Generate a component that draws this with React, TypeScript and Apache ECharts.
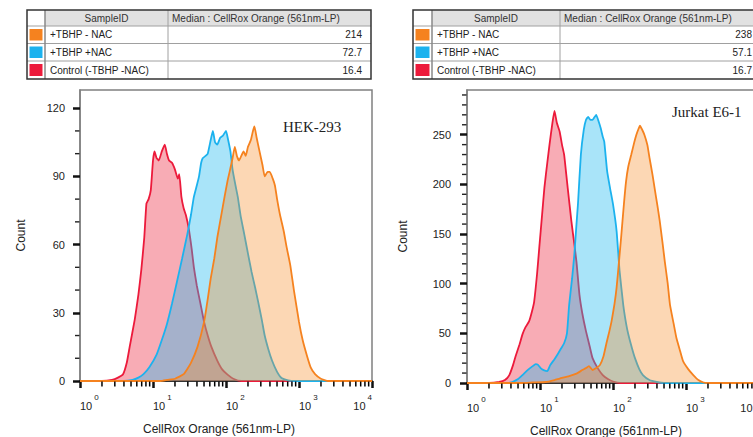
import React, { useEffect, useRef } from 'react';
import * as echarts from 'echarts';

// ---------- data ----------
const sampleIds = ['+TBHP - NAC', '+TBHP +NAC', 'Control (-TBHP -NAC)'];
const sampleColors = ['#f5821f', '#1cb2ee', '#ec1a3b'];
const fillColors = ['rgba(246,140,40,0.5)', 'rgba(30,185,240,0.55)', 'rgba(236,40,62,0.55)'];
const hekMedians = ['214', '72.7', '16.4'];
const jurkatMedians = ['238', '57.1', '16.7'];
const tableHeader = ['SampleID', 'Median : CellRox Orange (561nm-LP)'];
const panelTitles = ['HEK-293', 'Jurkat E6-1'];
const xAxisName = 'CellRox Orange (561nm-LP)';
const yAxisName = 'Count';

const hekYTicks = [0, 30, 60, 90, 120];
const hekYMinor = [10, 20, 40, 50, 70, 80, 100, 110];
const jurkatYTicks = [0, 50, 100, 150, 200, 250];
const jurkatYMinor = [10, 20, 30, 40, 60, 70, 80, 90, 110, 120, 130, 140, 160, 170, 180, 190, 210, 220, 230, 240, 260, 270, 280, 290];
const xMinorFactors = [2, 3, 4, 5, 6, 7, 8, 9];
const xDecades = [1, 10, 100, 1000];

// [fluorescence, count]
const hekControl = [[1,0],[2.0,0],[2.75,0.5],[3.31,1.5],[3.89,3],[4.37,8],[4.79,15],[5.62,27],[6.31,38],[6.92,49],[7.59,63],[8.13,78],[8.71,80],[9.33,84],[10,97],[10.5,101],[11.2,98],[12.0,97],[13.2,101],[14.5,104],[15.5,100],[16.6,97],[18.2,96],[20.0,93],[21.9,89],[22.9,91],[24.5,81],[26.3,76],[28.2,73],[30.9,67],[33.9,58],[36.3,50],[39.8,42],[44.7,34],[50.1,26],[56.2,20],[63.1,15],[75.9,9],[89.1,5],[105,2.8],[126,1],[162,0],[10000,0]];
const hekNac = [[1,0],[3.98,0],[5.25,0.5],[6.31,1.5],[7.41,3],[8.91,6],[11.2,11.6],[13.2,18],[15.5,25],[18.2,34],[21.4,44],[25.1,54],[29.5,64.5],[33.1,73],[36.3,81],[39.8,86],[42.7,90],[45.7,96],[47.9,98],[52.5,99],[56.2,100],[61.7,106],[66.1,110],[70.8,105],[75.9,104],[83.2,107],[91.2,108],[100,110],[107,106],[115,101],[123,93],[135,86],[145,81],[158,73],[178,64.5],[200,56],[224,48],[251,41],[275,35],[309,27],[339,20],[380,14],[427,9],[501,4],[575,1.3],[708,0.3],[871,0],[10000,0]];
const hekTbhp = [[1,0],[12.6,0],[15.8,0.5],[20.0,1],[26.3,3],[33.1,8],[40.7,15],[50.1,26],[56.2,36],[61.7,45],[69.2,54],[75.9,63],[85.1,72],[95.5,81],[105,88],[112,92],[123,98],[132,103],[141,99],[151,97],[162,99],[174,101],[186,99],[200,103],[219,106],[234,110],[245,112],[263,107],[288,101],[316,95],[339,90],[372,92],[398,92],[437,89],[468,86],[501,80],[550,73],[617,66],[676,59],[759,51],[851,40],[1000,26],[1122,18],[1288,11],[1445,6],[1660,3],[1995,1],[2512,0],[10000,0]];

const jurkatControl = [[1,0],[2.0,0],[2.75,1],[3.31,3],[3.80,8],[4.27,18],[4.68,28],[5.25,39],[5.75,49],[6.31,56],[7.08,62],[7.76,72],[8.32,82],[9.12,110],[9.77,136],[10.7,170],[11.5,197],[12.6,222],[13.5,240],[14.8,262],[15.8,274],[17.0,262],[18.6,253],[20.0,240],[21.4,230],[22.9,210],[24.0,196],[26.9,163],[29.5,140],[31.6,122],[34.7,89],[38.0,70],[42.7,52],[47.9,37],[52.5,25],[61.7,15],[72.4,8],[85.1,4],[100,1.5],[126,0],[10000,0]];
const jurkatNac = [[1,0],[3.55,0],[4.17,1],[5.01,4],[5.75,8],[6.76,13],[7.94,17],[8.71,19],[9.33,18.5],[10.2,15],[11.2,13],[12.6,12],[13.8,18],[15.8,24],[17.8,30],[19.5,35],[21.4,40],[23.4,50],[25.1,79],[27.5,105],[29.5,129],[31.6,160],[33.1,180],[36.3,230],[39.8,255],[42.7,265],[45.7,268],[49.0,265],[52.5,265],[56.2,268],[58.9,270],[63.1,264],[67.6,257],[72.4,248],[75.9,243],[83.2,213],[91.2,196],[100,180],[112,153],[123,113],[138,79],[151,60],[162,49],[182,35],[200,25],[229,14],[257,8],[316,3],[398,1],[501,0],[10000,0]];
const jurkatTbhp = [[1,0],[5.62,0],[7.94,0.5],[12.0,1],[15.8,3],[18.6,4.5],[25.1,7],[31.6,9.5],[38.0,13],[42.7,15],[46.8,17],[52.5,13],[58.9,15],[66.1,18],[74.1,27],[81.3,40],[89.1,52],[95.5,62],[105,80],[112,96],[120,120],[129,146],[141,180],[151,203],[162,218],[178,230],[195,242],[209,250],[224,256],[234,259],[251,255],[269,250],[295,240],[316,227],[347,210],[372,196],[407,178],[437,163],[479,140],[513,122],[562,100],[603,79],[676,60],[741,45],[832,32],[912,22],[1072,14],[1259,8],[1479,3],[1738,0.5],[1995,0],[10000,0]];

// ---------- helpers ----------
const SANS = 'Arial, "Liberation Sans", Helvetica, sans-serif';
const SERIF = '"Times New Roman", "Liberation Serif", serif';
const xMinorValues = xDecades.flatMap((d) => xMinorFactors.map((f) => d * f));

function buildTable(x0: number, x1: number, x2: number, x3: number, medians: string[]) {
  const ys = [10, 26, 43.5, 61, 79];
  const els: any[] = [];
  els.push({ type: 'rect', silent: true, shape: { x: x1, y: ys[0], width: x3 - x1, height: ys[1] - ys[0] }, style: { fill: '#e1e1e1' } });
  for (let i = 1; i < 4; i++) {
    els.push({ type: 'line', silent: true, shape: { x1: x0, y1: ys[i], x2: x3, y2: ys[i] }, style: { stroke: '#a0a0a0', lineWidth: 1 } });
  }
  els.push({ type: 'line', silent: true, shape: { x1: x1, y1: ys[0], x2: x1, y2: ys[4] }, style: { stroke: '#888', lineWidth: 1.5 } });
  els.push({ type: 'line', silent: true, shape: { x1: x2, y1: ys[0], x2: x2, y2: ys[4] }, style: { stroke: '#a0a0a0', lineWidth: 1 } });
  els.push({ type: 'rect', silent: true, shape: { x: x0, y: ys[0], width: x3 - x0, height: ys[4] - ys[0] }, style: { fill: 'none', stroke: '#333', lineWidth: 1.5 } });
  const mid = (a: number, b: number) => (a + b) / 2;
  els.push({ type: 'text', silent: true, style: { text: tableHeader[0], x: mid(x1, x2), y: mid(ys[0], ys[1]), align: 'center', textAlign: 'center', verticalAlign: 'middle', textVerticalAlign: 'middle', fill: '#333', font: `10px ${SANS}` } });
  els.push({ type: 'text', silent: true, style: { text: tableHeader[1], x: x2 + 4, y: mid(ys[0], ys[1]), align: 'left', textAlign: 'left', verticalAlign: 'middle', textVerticalAlign: 'middle', fill: '#333', font: `10px ${SANS}` } });
  for (let r = 0; r < 3; r++) {
    const yTop = ys[r + 1];
    const yBot = ys[r + 2];
    els.push({ type: 'rect', silent: true, shape: { x: x0 + 2.5, y: yTop + 3, width: x1 - x0 - 5, height: yBot - yTop - 6 }, style: { fill: sampleColors[r] } });
    els.push({ type: 'text', silent: true, style: { text: sampleIds[r], x: x1 + 5, y: mid(yTop, yBot), align: 'left', textAlign: 'left', verticalAlign: 'middle', textVerticalAlign: 'middle', fill: '#222', font: `10px ${SANS}` } });
    els.push({ type: 'text', silent: true, style: { text: medians[r], x: x3 - 9, y: mid(yTop, yBot), align: 'right', textAlign: 'right', verticalAlign: 'middle', textVerticalAlign: 'middle', fill: '#222', font: `10px ${SANS}` } });
  }
  return els;
}

function mainXAxis(gridIndex: number) {
  return {
    type: 'log', gridIndex, min: 1, max: 10000, logBase: 10,
    name: xAxisName, nameLocation: 'middle', nameGap: 42,
    nameTextStyle: { fontSize: 12, color: '#222', fontFamily: SANS, padding: [0, 14, 0, 0] },
    axisLine: { show: true, lineStyle: { color: '#111', width: 1.5 } },
    axisTick: { show: true, inside: false, length: 7, lineStyle: { color: '#111', width: 2.5 } },
    axisLabel: {
      show: true, margin: 12, align: 'left', alignMaxLabel: 'right',
      formatter: (v: number) => `{b|10}{s|${Math.round(Math.log10(v))}}`,
      rich: {
        b: { fontSize: 11, color: '#222', fontFamily: SANS, lineHeight: 18, verticalAlign: 'bottom' },
        s: { fontSize: 8, color: '#222', fontFamily: SANS, lineHeight: 10, verticalAlign: 'top', padding: [0, 0, 0, 2] },
      },
    },
    splitLine: { show: false },
    minorTick: { show: false },
  };
}

function mainYAxis(gridIndex: number, max: number, ticks: number[], interval: number, margin: number, nameGap: number) {
  return {
    type: 'value', gridIndex, min: 0, max, interval,
    name: yAxisName, nameLocation: 'middle', nameGap, nameRotate: 90,
    nameTextStyle: { fontSize: 12, color: '#222', fontFamily: SANS },
    axisLine: { show: true, lineStyle: { color: '#808080', width: 1.5 } },
    axisTick: { show: true, length: 7, customValues: ticks, lineStyle: { color: '#111', width: 2.5 } },
    axisLabel: { show: true, margin, customValues: ticks, fontSize: 11, color: '#222', fontFamily: SANS },
    splitLine: { show: false },
  };
}

function histSeries(name: string, data: number[][], idx: number, axisIndex: number, z: number) {
  return {
    name, type: 'line', xAxisIndex: axisIndex, yAxisIndex: axisIndex, data, z,
    showSymbol: false, symbol: 'none', smooth: 0.15,
    lineStyle: { color: sampleColors[idx], width: 1.8 },
    areaStyle: { color: fillColors[idx], origin: 'start' },
  };
}

// minor ticks drawn through the axes' own scales
function xMinorTickSeries(axisIndex: number) {
  return {
    type: 'custom', xAxisIndex: axisIndex, yAxisIndex: axisIndex, clip: false, silent: true, z: 6,
    data: xMinorValues.map((v) => [v, 0]),
    renderItem: (_p: any, api: any) => {
      const pt = api.coord([api.value(0), 0]);
      return { type: 'line', shape: { x1: pt[0], y1: pt[1] + 0.5, x2: pt[0], y2: pt[1] + 5.5 }, style: { stroke: '#000', lineWidth: 1.5 } };
    },
  };
}

function yMinorTickSeries(axisIndex: number, values: number[]) {
  return {
    type: 'custom', xAxisIndex: axisIndex, yAxisIndex: axisIndex, clip: false, silent: true, z: 6,
    data: values.map((v) => [1, v]),
    renderItem: (_p: any, api: any) => {
      const pt = api.coord([1, api.value(1)]);
      return { type: 'line', shape: { x1: pt[0] - 5, y1: pt[1], x2: pt[0] - 0.5, y2: pt[1] }, style: { stroke: '#222', lineWidth: 1.4 } };
    },
  };
}

export default function App() {
  const ref = useRef<HTMLDivElement>(null);
  useEffect(() => {
    document.body.style.margin = '0';
    const chart = echarts.init(ref.current!, undefined, { renderer: 'svg' });
    chart.setOption({
      animation: false,
      backgroundColor: '#ffffff',
      grid: [
        { left: 80, top: 90, width: 292, height: 291, show: true, borderColor: '#808080', borderWidth: 1.5, backgroundColor: '#fff', containLabel: false, outerBoundsMode: 'none' },
        { left: 467, top: 90, width: 292, height: 293, show: true, borderColor: '#808080', borderWidth: 1.5, backgroundColor: '#fff', containLabel: false, outerBoundsMode: 'none' },
      ],
      xAxis: [mainXAxis(0), mainXAxis(1)],
      yAxis: [
        mainYAxis(0, 128, hekYTicks, 30, 15, 53),
        mainYAxis(1, 295, jurkatYTicks, 50, 16, 58),
      ],
      series: [
        histSeries(sampleIds[2], hekControl, 2, 0, 2),
        histSeries(sampleIds[1], hekNac, 1, 0, 3),
        histSeries(sampleIds[0], hekTbhp, 0, 0, 4),
        histSeries(sampleIds[2], jurkatControl, 2, 1, 2),
        histSeries(sampleIds[1], jurkatNac, 1, 1, 3),
        histSeries(sampleIds[0], jurkatTbhp, 0, 1, 4),
        xMinorTickSeries(0),
        xMinorTickSeries(1),
        yMinorTickSeries(0, hekYMinor),
        yMinorTickSeries(1, jurkatYMinor),
      ],
      graphic: [
        ...buildTable(27, 45, 168, 371, hekMedians),
        ...buildTable(413, 432, 560, 761, jurkatMedians),
        { type: 'text', silent: true, z: 10, style: { text: panelTitles[0], x: 283, y: 127, align: 'left', textAlign: 'left', verticalAlign: 'middle', textVerticalAlign: 'middle', fill: '#222', font: `15px ${SERIF}` } },
        { type: 'text', silent: true, z: 10, style: { text: panelTitles[1], x: 672, y: 112, align: 'left', textAlign: 'left', verticalAlign: 'middle', textVerticalAlign: 'middle', fill: '#222', font: `15px ${SERIF}` } },
      ],
    });
    return () => chart.dispose();
  }, []);
  return <div ref={ref} style={{ width: 753, height: 437, overflow: 'hidden' }} />;
}
